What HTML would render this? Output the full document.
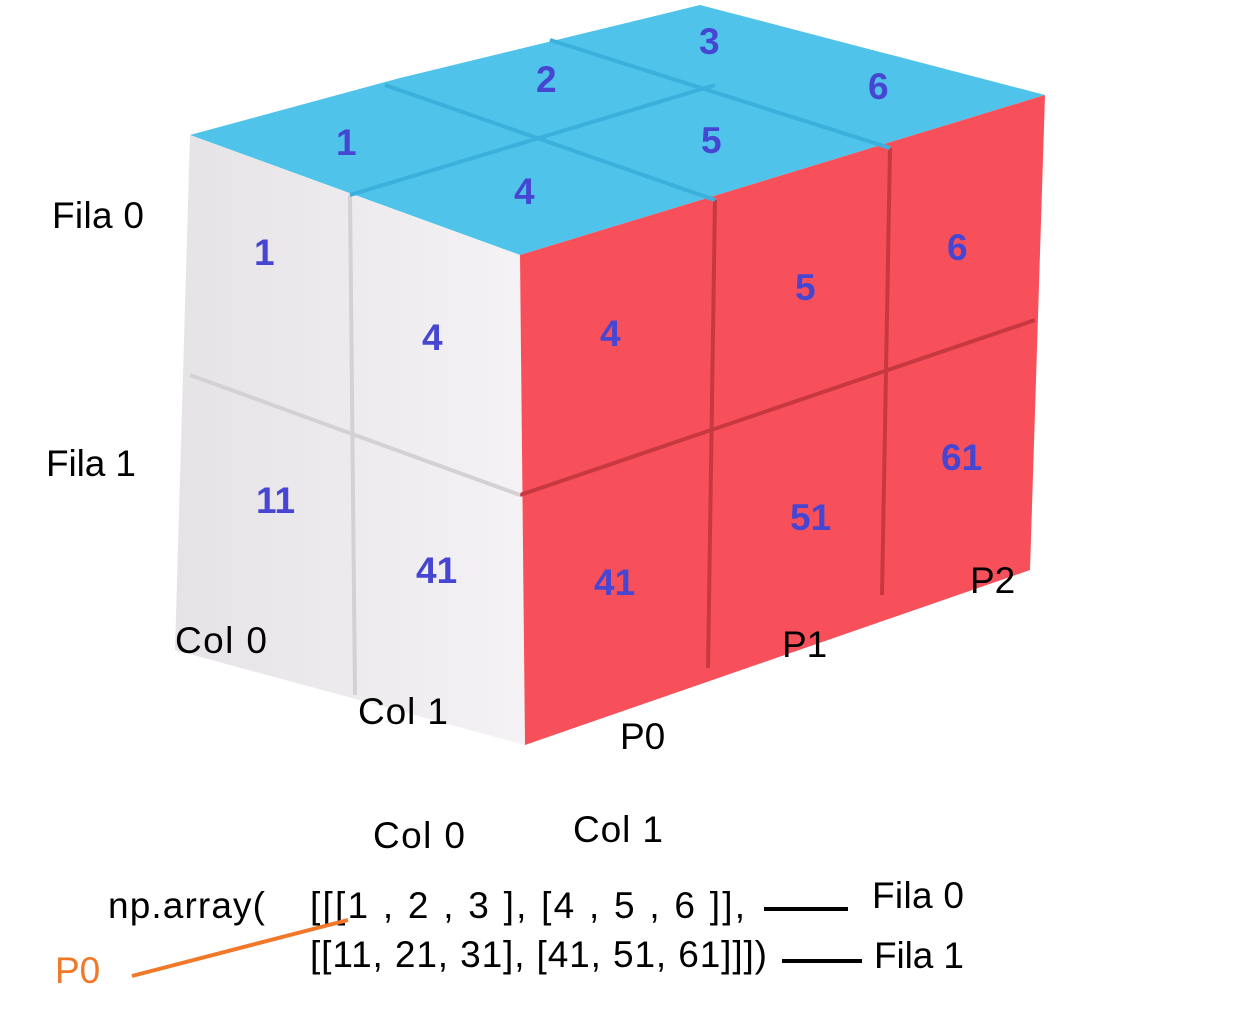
<!DOCTYPE html>
<html><head><meta charset="utf-8"><style>
body{margin:0;background:#fff;}
svg{display:block;}
text{font-family:"Liberation Sans","DejaVu Sans",sans-serif;}
.n{fill:#4646d2;font-weight:bold;font-size:37px;}
.l{fill:#000;font-size:37px;}
</style></head><body>
<svg width="1236" height="1024" viewBox="0 0 1236 1024">
<defs>
<linearGradient id="wg" x1="0" y1="0" x2="1" y2="0"><stop offset="0" stop-color="#e6e3e6"/><stop offset="1" stop-color="#f4f2f4"/></linearGradient>
</defs>
<g>
<polygon points="190,135 400,78 700,5 1045,95 520,255" fill="#4fc3ea"/>
<polygon points="190,135 520,255 525,745 175,650" fill="url(#wg)"/>
<polygon points="520,255 1045,95 1030,570 525,745" fill="#f8505a"/>
<g stroke-width="4" fill="none">
<line x1="715" y1="200" x2="708" y2="668" stroke="#c83840"/>
<line x1="890" y1="148" x2="882" y2="595" stroke="#c83840"/>
<line x1="520" y1="495" x2="1035" y2="320" stroke="#c83840"/>
<line x1="350" y1="195" x2="355" y2="695" stroke="#d4d0d4"/>
<line x1="190" y1="375" x2="520" y2="495" stroke="#d4d0d4"/>
<line x1="350" y1="195" x2="715" y2="85" stroke="#3bb0dc"/>
<line x1="385" y1="85" x2="715" y2="200" stroke="#3bb0dc"/>
<line x1="550" y1="40" x2="890" y2="148" stroke="#3bb0dc"/>
</g>
</g>
<g>
<text class="n" x="336" y="155">1</text><text class="n" x="536" y="92">2</text><text class="n" x="699" y="54">3</text>
<text class="n" x="514" y="204">4</text><text class="n" x="701" y="153">5</text><text class="n" x="868" y="99">6</text>
<text class="n" x="254" y="265">1</text><text class="n" x="422" y="350">4</text>
<text class="n" x="600" y="346">4</text><text class="n" x="795" y="300">5</text><text class="n" x="947" y="260">6</text>
<text class="n" x="256" y="513">11</text><text class="n" x="416" y="583">41</text>
<text class="n" x="594" y="595">41</text><text class="n" x="790" y="530">51</text><text class="n" x="941" y="470">61</text>
</g>
<g>
<text class="l" x="52" y="228" textLength="92">Fila 0</text>
<text class="l" x="46" y="476" textLength="90">Fila 1</text>
<text class="l" x="175" y="653" textLength="92">Col 0</text>
<text class="l" x="358" y="724" textLength="90">Col 1</text>
<text class="l" x="620" y="749">P0</text>
<text class="l" x="782" y="657">P1</text>
<text class="l" x="970" y="593">P2</text>
<text class="l" x="373" y="848" textLength="92">Col 0</text>
<text class="l" x="573" y="842" textLength="90">Col 1</text>
<text class="l" x="108" y="918" textLength="157">np.array(</text>
<text class="l" x="310" y="918" textLength="435">[[[1 , 2 ,  3 ],  [4  , 5  , 6 ]],</text>
<text class="l" x="310" y="967" textLength="457">[[11, 21, 31], [41, 51, 61]]])</text>
<text class="l" x="872" y="908" textLength="92">Fila 0</text>
<text class="l" x="874" y="968" textLength="90">Fila 1</text>
<text x="55" y="983" style="fill:#f07828;font-size:37px">P0</text>
</g>
<line x1="764" y1="909" x2="848" y2="909" stroke="#000" stroke-width="4"/>
<line x1="782" y1="961" x2="862" y2="961" stroke="#000" stroke-width="4"/>
<line x1="132" y1="976" x2="348" y2="920" stroke="#f07828" stroke-width="4"/>
</svg>
</body></html>
